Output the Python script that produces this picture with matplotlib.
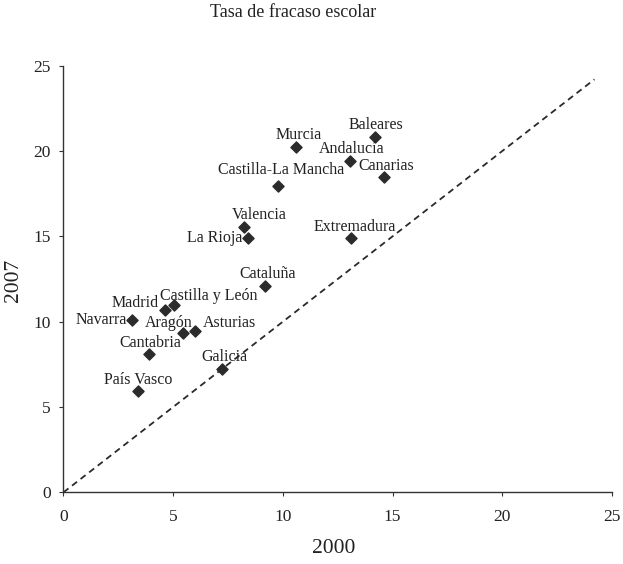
import numpy as np
import matplotlib.pyplot as plt

plt.rcParams['font.family'] = ['Liberation Serif', 'DejaVu Serif']

# Tasa de fracaso escolar por comunidad autónoma
regiones = ['Murcia', 'Baleares', 'Andalucía', 'Canarias', 'Castilla-La Mancha',
            'Valencia', 'La Rioja', 'Extremadura', 'Cataluña', 'Castilla y León',
            'Madrid', 'Navarra', 'Aragón', 'Asturias', 'Cantabria', 'Galicia',
            'País Vasco']
tasa_2000 = [10.60, 14.18, 13.04, 14.61, 9.80, 8.24, 8.42, 13.09, 9.20, 5.03,
             4.62, 3.14, 5.44, 5.99, 3.88, 7.24, 3.38]
tasa_2007 = [20.22, 20.83, 19.42, 18.45, 17.95, 15.55, 14.91, 14.93, 12.09, 11.00,
             10.71, 10.12, 9.36, 9.44, 8.08, 7.25, 5.94]
diag_max = 24.2

# where each label sits relative to its point (pixels, alignment)
label_pos = {
    'Murcia': (3, 12, 'center'), 'Baleares': (1, 12, 'center'),
    'Andalucía': (2, 12, 'center'), 'Canarias': (2, 11, 'center'),
    'Castilla-La Mancha': (3, 16, 'center'), 'Valencia': (15, 12, 'center'),
    'La Rioja': (-6, 0, 'right'), 'Extremadura': (4, 11, 'center'),
    'Cataluña': (2, 12, 'center'), 'Castilla y León': (35, 9, 'center'),
    'Madrid': (-6, 7, 'right'), 'Navarra': (-5, 0, 'right'),
    'Aragón': (-14, 10, 'center'), 'Asturias': (8, 8, 'left'),
    'Cantabria': (2, 11, 'center'), 'Galicia': (2, 12, 'center'),
    'País Vasco': (1, 11, 'center'),
}

fig = plt.figure(figsize=(6.23, 5.64), dpi=100)
ax = fig.add_axes([0.1019, 0.1271, 0.8804, 0.7564])

ax.plot([0, diag_max], [0, diag_max], ls=(0, (3.5, 2.5)), color='#2a2a2a', lw=1.3)
ax.scatter(tasa_2000, tasa_2007, marker='D', s=32, color='#2b2b2b', zorder=3)

for name, x, y in zip(regiones, tasa_2000, tasa_2007):
    dx, dy, ha = label_pos[name]
    ax.annotate(name, (x, y), xytext=(dx, dy), textcoords='offset pixels',
                ha=ha, va='center', fontsize=11.5, color='#222222')

ax.set_xlim(0, 25)
ax.set_ylim(0, 25)
ax.set_xticks(np.arange(0, 26, 5))
ax.set_yticks(np.arange(0, 26, 5))
for s in ['top', 'right']:
    ax.spines[s].set_visible(False)
for s in ['left', 'bottom']:
    ax.spines[s].set_color('#333333')
    ax.spines[s].set_linewidth(1.0)
ax.tick_params(direction='out', length=3, color='#333333', labelsize=12.5,
               labelcolor='#222222')
ax.tick_params(axis='x', pad=9)
ax.tick_params(axis='y', pad=6)

fig.text(0.471, 0.977, 'Tasa de fracaso escolar', ha='center', va='center',
         fontsize=13, color='#222222')
fig.text(0.536, 0.027, '2000', ha='center', va='center', fontsize=15.5, color='#222222')
fig.text(0.022, 0.502, '2007', ha='center', va='center', rotation=90,
         fontsize=15.5, color='#222222')

fig.savefig('out.png', dpi=100)
